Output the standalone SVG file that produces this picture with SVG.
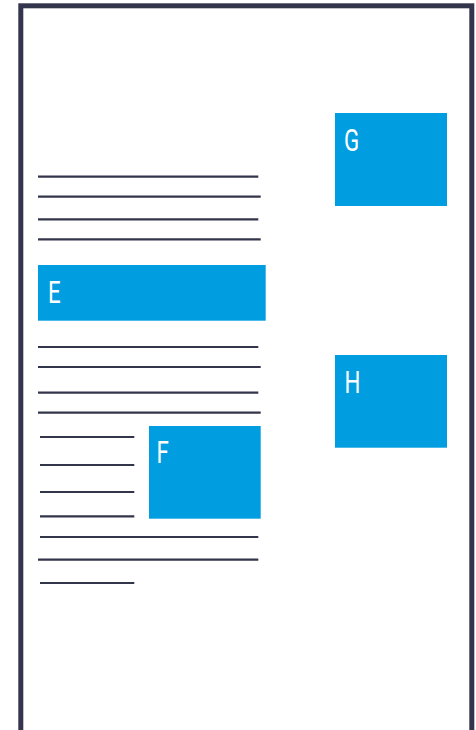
<svg xmlns="http://www.w3.org/2000/svg" width="476" height="730" viewBox="0 0 476 730">
<style>
.frame{fill:none;stroke:#33354d;stroke-width:5}
.ln{stroke:#33354a;stroke-width:2.2;fill:none}
.box{fill:#009ee0}
.lbl{font-family:Roboto,"DejaVu Sans",sans-serif;font-size:31px;font-weight:400;fill:#ffffff}
</style>
<rect width="476" height="730" fill="#ffffff"/>
<g id="page">
<rect class="frame" x="20.8" y="5.8" width="451" height="740"/>
</g>
<g id="lines">
<line class="ln" x1="38" y1="176.7" x2="258.3" y2="176.7"/>
<line class="ln" x1="38" y1="196.7" x2="260.7" y2="196.7"/>
<line class="ln" x1="38" y1="219.3" x2="258.3" y2="219.3"/>
<line class="ln" x1="38" y1="239.3" x2="260.7" y2="239.3"/>
<line class="ln" x1="38" y1="347" x2="258.3" y2="347"/>
<line class="ln" x1="38" y1="367" x2="260.7" y2="367"/>
<line class="ln" x1="38" y1="392.7" x2="258.3" y2="392.7"/>
<line class="ln" x1="38" y1="412.7" x2="260.7" y2="412.7"/>
<line class="ln" x1="40" y1="437" x2="134.3" y2="437"/>
<line class="ln" x1="40" y1="465" x2="134.3" y2="465"/>
<line class="ln" x1="40" y1="492" x2="134.3" y2="492"/>
<line class="ln" x1="40" y1="516.3" x2="134.3" y2="516.3"/>
<line class="ln" x1="40" y1="537" x2="258.3" y2="537"/>
<line class="ln" x1="38" y1="559.7" x2="258.3" y2="559.7"/>
<line class="ln" x1="40" y1="583" x2="134.3" y2="583"/>
</g>
<g id="E">
<rect class="box" x="38" y="265" width="227.7" height="55.7"/>
<text class="lbl" transform="translate(48,302.7) scale(0.72,1)">E</text>
</g>
<g id="F">
<rect class="box" x="149" y="426" width="111.7" height="92.7"/>
<text class="lbl" transform="translate(156.5,462.7) scale(0.72,1)">F</text>
</g>
<g id="G">
<rect class="box" x="335" y="113" width="112" height="93"/>
<text class="lbl" transform="translate(344,150.7) scale(0.72,1)">G</text>
</g>
<g id="H">
<rect class="box" x="335" y="355" width="112" height="92.7"/>
<text class="lbl" transform="translate(344.5,392.7) scale(0.72,1)">H</text>
</g>
</svg>
